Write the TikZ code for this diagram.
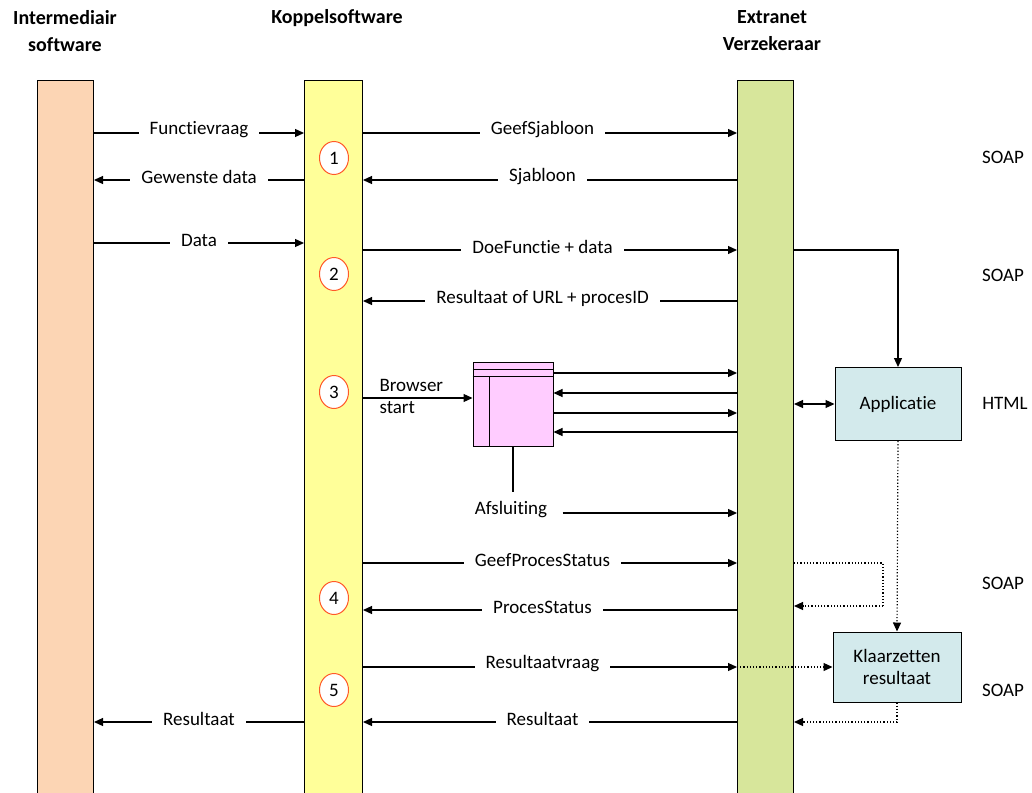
\documentclass[tikz,border=0pt]{standalone}
\usepackage{fontspec}
\setmainfont{Carlito}[Ligatures=NoCommon]
\usetikzlibrary{arrows.meta,shapes.geometric}
\definecolor{peach}{RGB}{252,213,180}
\definecolor{lightyellow}{RGB}{255,255,153}
\definecolor{lightgreen}{RGB}{215,230,155}
\definecolor{lightpink}{RGB}{255,204,255}
\definecolor{lightaqua}{RGB}{211,234,236}
\definecolor{ringred}{RGB}{255,90,40}
\begin{document}
\begin{tikzpicture}[x=1pt,y=-1pt,
    font=\fontsize{19}{22}\selectfont,
    lane/.style={draw=black,line width=1pt,anchor=north west,minimum height=740pt,inner sep=0pt},
    msg/.style={line width=1.2pt,-{Triangle[length=9pt,width=8pt]}},
    back/.style={line width=1.2pt,{Triangle[length=9pt,width=8pt]}-},
    dots/.style={line width=1.2pt,dotted},
    lbl/.style={fill=white,inner xsep=11pt,inner ysep=1pt,yshift=3pt},
    procbox/.style={draw=black,line width=1pt,fill=lightaqua,align=center,inner sep=0pt},
    stepring/.style={ellipse,draw=ringred,line width=1pt,fill=white,minimum width=29pt,minimum height=33pt,inner sep=0pt}]
  \useasboundingbox (0,0) rectangle (1032,792);
  % kopjes
  \node[font=\fontsize{20}{27}\selectfont\bfseries,align=center] (hIm) at (65,31) {Intermediair\\software};
  \node[font=\fontsize{20}{27}\selectfont\bfseries] (hKp) at (337,18) {Koppelsoftware};
  \node[font=\fontsize{20}{27}\selectfont\bfseries,align=center] (hEx) at (772,31) {Extranet\\Verzekeraar};
  % banen
  \node[lane,fill=peach,minimum width=56pt] (im) at (37,80) {};
  \node[lane,fill=lightyellow,minimum width=58pt] (kp) at (304,80) {};
  \node[lane,fill=lightgreen,minimum width=56pt] (ex) at (737,80) {};
  % stap 1
  \draw[msg] (im.east|-0,133) -- node[lbl] {Functievraag} (kp.west|-0,133);
  \draw[msg] (kp.east|-0,133) -- node[lbl,pos=0.48] {GeefSjabloon} (ex.west|-0,133);
  \draw[back] (im.east|-0,180) -- node[lbl] {Gewenste data} (kp.west|-0,180);
  \draw[back] (kp.east|-0,180) -- node[lbl,pos=0.48] {Sjabloon} (ex.west|-0,180);
  % stap 2
  \draw[msg] (im.east|-0,243) -- node[lbl] {Data} (kp.west|-0,243);
  \draw[msg] (kp.east|-0,250) -- node[lbl,pos=0.48] {DoeFunctie + data} (ex.west|-0,250);
  \draw[back] (kp.east|-0,301) -- node[lbl,pos=0.48] {Resultaat of URL + procesID} (ex.west|-0,301);
  % applicatie en browser
  \node[procbox,minimum width=126pt,minimum height=73pt] (app) at (898,404) {Applicatie};
  \draw[msg] (ex.east|-0,250) -| (app.north);
  \draw[line width=1.2pt,{Triangle[length=9pt,width=8pt]}-{Triangle[length=9pt,width=8pt]}] (ex.east|-app) -- (app.west);
  \node[draw=black,line width=1pt,fill=lightpink,minimum width=80pt,minimum height=84pt] (brw) at (513,404) {};
  \draw[line width=1pt] ([yshift=-8pt]brw.north west) -- ([yshift=-8pt]brw.north east);
  \draw[line width=1pt] ([yshift=-15pt]brw.north west) -- ([yshift=-15pt]brw.north east);
  \draw[line width=1pt] ([xshift=17pt,yshift=-15pt]brw.north west) -- ([xshift=17pt]brw.south west);
  \draw[msg] (kp.east|-0,398) -- (brw.west|-0,398);
  \node[anchor=west,align=left] (bst) at (376,396) {Browser\\start};
  \draw[msg] (brw.east|-0,373) -- (ex.west|-0,373);
  \draw[back] (brw.east|-0,393) -- (ex.west|-0,393);
  \draw[msg] (brw.east|-0,413) -- (ex.west|-0,413);
  \draw[back] (brw.east|-0,432) -- (ex.west|-0,432);
  \coordinate (brwEnd) at (513,492);
  \draw[line width=1.2pt] (brw.south) -- (brwEnd);
  \node (afs) at (511,510) {Afsluiting};
  \draw[msg] ([xshift=12pt]afs.east|-0,513) -- (ex.west|-0,513);
  % stap 4
  \draw[msg] (kp.east|-0,563) -- node[lbl,pos=0.48] {GeefProcesStatus} (ex.west|-0,563);
  \draw[back] (kp.east|-0,610) -- node[lbl,pos=0.48] {ProcesStatus} (ex.west|-0,610);
  \coordinate (loopA) at (883,563);
  \coordinate (loopB) at (883,606);
  \draw[dots] (ex.east|-loopA) -- (loopA) -- (loopB);
  \draw[dots,-{Triangle[length=9pt,width=8pt]}] (loopB) -- (ex.east|-loopB);
  % stap 5
  \node[procbox,minimum width=128pt,minimum height=70pt] (klaar) at (897,667) {Klaarzetten\\resultaat};
  \draw[dots,-{Triangle[length=9pt,width=8pt]}] (app.south) -- (klaar.north);
  \draw[msg] (kp.east|-0,667) -- node[lbl,pos=0.48] {Resultaatvraag} (ex.west|-0,667);
  \draw[dots,-{Triangle[length=9pt,width=8pt]}] (ex.west|-klaar.west) -- (klaar.west);
  \draw[back] (kp.east|-0,722) -- node[lbl,pos=0.48] {Resultaat} (ex.west|-0,722);
  \draw[back] (im.east|-0,722) -- node[lbl] {Resultaat} (kp.west|-0,722);
  \draw[dots,-{Triangle[length=9pt,width=8pt]}] (klaar.south) |- (ex.east|-0,722);
  % stapnummers
  \node[stepring] (s1) at (334,158) {1};
  \node[stepring] (s2) at (334,274) {2};
  \node[stepring] (s3) at (334,392) {3};
  \node[stepring] (s4) at (334,598) {4};
  \node[stepring] (s5) at (334,690) {5};
  % protocollen
  \node (p1) at (1003,157) {SOAP};
  \node (p2) at (1003,275) {SOAP};
  \node (p3) at (1005,403) {HTML};
  \node (p4) at (1003,583) {SOAP};
  \node (p5) at (1003,690) {SOAP};
\end{tikzpicture}
\end{document}
